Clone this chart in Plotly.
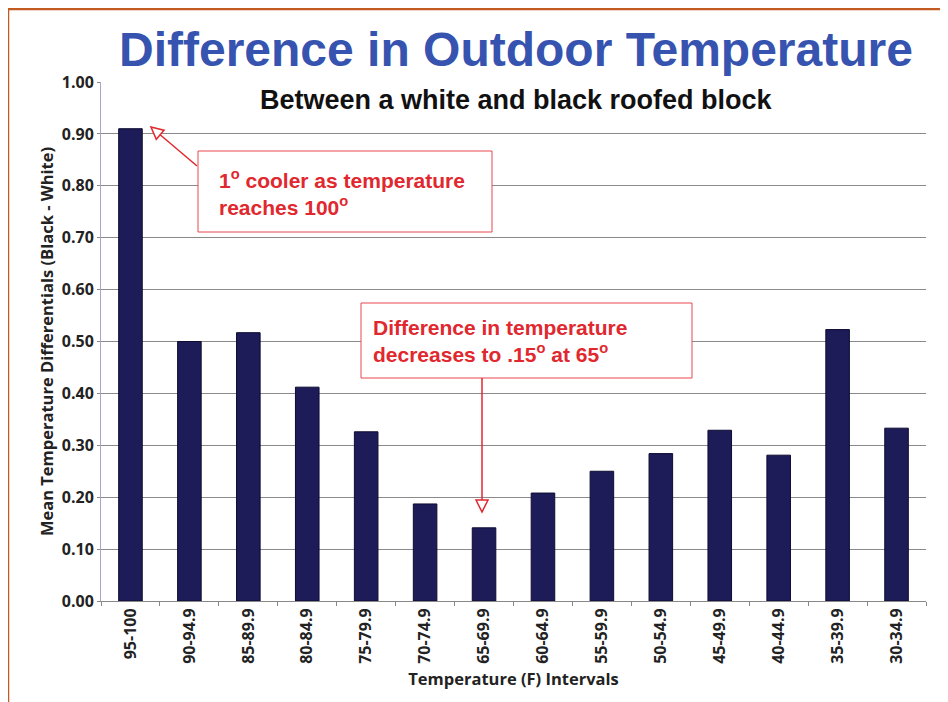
import plotly.graph_objects as go

categories = ['95-100', '90-94.9', '85-89.9', '80-84.9', '75-79.9', '70-74.9', '65-69.9',
              '60-64.9', '55-59.9', '50-54.9', '45-49.9', '40-44.9', '35-39.9', '30-34.9']
diffs = [0.91, 0.50, 0.517, 0.412, 0.326, 0.187, 0.141, 0.208, 0.250, 0.284, 0.329, 0.281, 0.523, 0.333]
yticks = [0.0, 0.1, 0.2, 0.3, 0.4, 0.5, 0.6, 0.7, 0.8, 0.9, 1.0]

# the page body adds an 8px margin, so the figure is 8px smaller and shifted
OFF = 8
W, H = 948 - OFF, 702 - OFF
L, R, T, B = 101 - OFF, 22, 82 - OFF, 101
red = '#e0282e'
navy = '#1d1b58'


# page pixel -> paper helpers for the decoration
def px(x):
    return (x - OFF - L) / (W - L - R)


def py(y):
    return (H - B - (y - OFF)) / (H - T - B)


fig = go.Figure(go.Bar(x=categories, y=diffs, marker_color=navy,
                       marker_line_color='#0d0c30', marker_line_width=1))

fig.update_layout(
    width=W, height=H,
    margin=dict(l=L, r=R, t=T, b=B),
    paper_bgcolor='white', plot_bgcolor='white',
    bargap=0.6, showlegend=False,
    font=dict(family='Open Sans', color='#222'),
)
fig.update_yaxes(range=[0, 1], tickvals=yticks, ticktext=['<b>%.2f</b>' % v for v in yticks],
                 showgrid=True, gridcolor='#8a8a8a', gridwidth=1,
                 showline=True, linecolor='#a8a4cc', linewidth=1,
                 ticks='outside', ticklen=3, tickcolor='#888',
                 tickfont=dict(size=16, family='Open Sans', color='#222'),
                 title=dict(text='<b>Mean Temperature Differentials (Black - White)</b>',
                            font=dict(size=16.5, family='Open Sans', color='#222'), standoff=4))
fig.update_xaxes(tickangle=-90, showline=True, linecolor='#888', linewidth=1,
                 ticks='outside', tickson='boundaries', ticklen=4, tickcolor='#888',
                 tickfont=dict(size=16, family='Open Sans', color='#222'),
                 ticktext=['<b>%s</b>' % c for c in categories], tickvals=categories,
                 title=dict(text='<b>Temperature (F) Intervals</b>',
                            font=dict(size=16.5, family='Open Sans', color='#222'), standoff=10))

ann = []
ann.append(dict(text='<b>Difference in Outdoor Temperature</b>', x=px(516), y=py(49),
                xref='paper', yref='paper', showarrow=False, yanchor='middle',
                font=dict(size=48, family='Liberation Sans', color='#3653b0')))
ann.append(dict(text='<b>Between a white and black roofed block</b>', x=px(516), y=py(100),
                xref='paper', yref='paper', showarrow=False, yanchor='middle',
                font=dict(size=27, family='Liberation Sans', color='#111')))
ann.append(dict(text='<b>1<sup>o</sup> cooler as temperature<br>reaches 100<sup>o</sup></b>',
                x=px(217), y=py(192), xanchor='left', yanchor='middle', align='left',
                xref='paper', yref='paper', showarrow=False,
                font=dict(size=21, family='Liberation Sans', color=red)))
ann.append(dict(text='<b>Difference in temperature<br>decreases to .15<sup>o</sup> at 65<sup>o</sup></b>',
                x=px(371), y=py(341), xanchor='left', yanchor='middle', align='left',
                xref='paper', yref='paper', showarrow=False,
                font=dict(size=21, family='Liberation Sans', color=red)))
fig.update_layout(annotations=ann)

shapes = []
# orange frame
shapes.append(dict(type='line', xref='paper', yref='paper', x0=px(8), x1=px(948), y0=py(9), y1=py(9),
                   line=dict(color='#c25a22', width=2.5)))
shapes.append(dict(type='line', xref='paper', yref='paper', x0=px(8), x1=px(8), y0=py(9), y1=py(702),
                   line=dict(color='#c25a22', width=2.5)))
# callout boxes
for x0, y0, x1, y1 in [(198, 151, 492, 232), (361, 303, 692, 378)]:
    shapes.append(dict(type='rect', xref='paper', yref='paper', x0=px(x0), x1=px(x1), y0=py(y0), y1=py(y1),
                       line=dict(color='#e8474c', width=1), fillcolor='white'))


def arrow(x0, y0, x1, y1, hl=12, hw=6):
    dx, dy = x1 - x0, y1 - y0
    n = (dx * dx + dy * dy) ** 0.5
    ux, uy = dx / n, dy / n
    bx, by = x1 - hl * ux, y1 - hl * uy
    qx, qy = -uy * hw, ux * hw
    shapes.append(dict(type='line', xref='paper', yref='paper', x0=px(x0), y0=py(y0), x1=px(bx), y1=py(by),
                       line=dict(color=red, width=1.5)))
    path = 'M %f %f L %f %f L %f %f Z' % (px(x1), py(y1), px(bx + qx), py(by + qy), px(bx - qx), py(by - qy))
    shapes.append(dict(type='path', xref='paper', yref='paper', path=path,
                       line=dict(color=red, width=1.5), fillcolor='white'))


arrow(197, 166, 151, 127)
arrow(482, 378, 482, 512)
fig.update_layout(shapes=shapes)

fig.write_html("out.html")
